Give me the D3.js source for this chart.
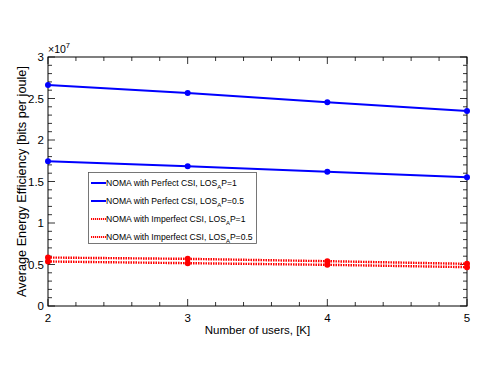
<!DOCTYPE html>
<html>
<head>
<meta charset="utf-8">
<script src="https://cdn.jsdelivr.net/npm/d3@7"></script>
<style>
  body { margin: 0; background: #fff; }
  text { font-family: "Liberation Sans", Arial, sans-serif; fill: #000; }
</style>
</head>
<body>
<svg width="491" height="382"></svg>
<script>
// data (values in units of 1e7 bits/joule)
const users = [2, 3, 4, 5];
const perfectP1 = [2.664, 2.565, 2.456, 2.348];
const perfectP05 = [1.744, 1.684, 1.616, 1.552];
const imperfectP1 = [0.584, 0.568, 0.540, 0.508];
const imperfectP05 = [0.536, 0.516, 0.496, 0.468];
const seriesNames = [
  ["NOMA with Perfect CSI, LOS", "P=1"],
  ["NOMA with Perfect CSI, LOS", "P=0.5"],
  ["NOMA with Imperfect CSI, LOS", "P=1"],
  ["NOMA with Imperfect CSI, LOS", "P=0.5"]
];
const xTicks = [2, 3, 4, 5];
const yTicks = [0, 0.5, 1, 1.5, 2, 2.5, 3];

const svg = d3.select("svg");
const m = { left: 48, right: 467, top: 57, bottom: 306 };

const x = d3.scaleLinear().domain([2, 5]).range([m.left, m.right]);
const y = d3.scaleLinear().domain([0, 3]).range([m.bottom, m.top]);

const series = [
  { vals: perfectP1, color: "#0000ff", dash: null },
  { vals: perfectP05, color: "#0000ff", dash: null },
  { vals: imperfectP1, color: "#ff0000", dash: "1.5,1" },
  { vals: imperfectP05, color: "#ff0000", dash: "1.5,1" }
];

// frame
svg.append("rect")
  .attr("x", m.left).attr("y", m.top)
  .attr("width", m.right - m.left).attr("height", m.bottom - m.top)
  .attr("fill", "none").attr("stroke", "#000").attr("stroke-width", 1);

// axes, ticks inside on all four sides
const minorX = d3.range(2, 5.001, 0.2);
const minorY = d3.range(0, 3.001, 0.1);
const tickG = svg.append("g").attr("stroke", "#000").attr("stroke-width", 0.8);
minorX.forEach(v => {
  const major = xTicks.some(t => Math.abs(t - v) < 1e-6);
  const len = major ? 7 : 4;
  tickG.append("line").attr("x1", x(v)).attr("x2", x(v)).attr("y1", m.bottom).attr("y2", m.bottom - len);
  tickG.append("line").attr("x1", x(v)).attr("x2", x(v)).attr("y1", m.top).attr("y2", m.top + len);
});
minorY.forEach(v => {
  const major = yTicks.some(t => Math.abs(t - v) < 1e-6);
  const len = major ? 7 : 4;
  tickG.append("line").attr("y1", y(v)).attr("y2", y(v)).attr("x1", m.left).attr("x2", m.left + len);
  tickG.append("line").attr("y1", y(v)).attr("y2", y(v)).attr("x1", m.right).attr("x2", m.right - len);
});

svg.append("g").selectAll("text").data(xTicks).join("text")
  .attr("x", d => x(d)).attr("y", m.bottom + 16)
  .attr("text-anchor", "middle").attr("font-size", 11.5)
  .text(d => d);

svg.append("g").selectAll("text").data(yTicks).join("text")
  .attr("x", m.left - 4).attr("y", d => y(d) + 4)
  .attr("text-anchor", "end").attr("font-size", 11.5)
  .text(d => d);

// exponent
const ex = svg.append("text").attr("x", m.left).attr("y", m.top - 4).attr("font-size", 10.5);
ex.append("tspan").text("×10");
ex.append("tspan").attr("dy", -5).attr("font-size", 7.5).text("7");

// axis labels
svg.append("text")
  .attr("x", x(3.5)).attr("y", 334)
  .attr("text-anchor", "middle").attr("font-size", 11.5)
  .text("Number of users, [K]");

svg.append("text")
  .attr("transform", `translate(26,${(m.top + m.bottom) / 2}) rotate(-90)`)
  .attr("text-anchor", "middle").attr("font-size", 12.7)
  .text("Average Energy Efficiency [bits per joule]");

// lines + markers
const line = d3.line().x((d, i) => x(users[i])).y(d => y(d));
series.forEach(s => {
  const g = svg.append("g");
  if (s.dash) {
    // dotted red lines are drawn thick with a double dotted look
    g.append("path").datum(s.vals).attr("d", line)
      .attr("fill", "none").attr("stroke", s.color).attr("stroke-width", 2.4)
      .attr("stroke-dasharray", s.dash);
  } else {
    g.append("path").datum(s.vals).attr("d", line)
      .attr("fill", "none").attr("stroke", s.color).attr("stroke-width", 2);
  }
  g.selectAll("circle").data(s.vals).join("circle")
    .attr("cx", (d, i) => x(users[i])).attr("cy", d => y(d))
    .attr("r", 3).attr("fill", s.color);
});

// legend
const lg = svg.append("g");
lg.append("rect").attr("x", 88.5).attr("y", 172.5).attr("width", 168).attr("height", 71)
  .attr("fill", "#fff").attr("stroke", "#555").attr("stroke-width", 0.8);
seriesNames.forEach((n, i) => {
  const yy = 183 + i * 18;
  const s = series[i];
  lg.append("line").attr("x1", 91).attr("x2", 106).attr("y1", yy).attr("y2", yy)
    .attr("stroke", s.color).attr("stroke-width", 2)
    .attr("stroke-dasharray", s.dash ? "1.2,0.8" : null);
  const t = lg.append("text").attr("x", 106).attr("y", yy + 3).attr("font-size", 8.6);
  t.append("tspan").text(n[0]);
  t.append("tspan").attr("dy", 3).attr("font-size", 6).text("A");
  t.append("tspan").attr("dy", -3).text(n[1]);
});
</script>
</body>
</html>
